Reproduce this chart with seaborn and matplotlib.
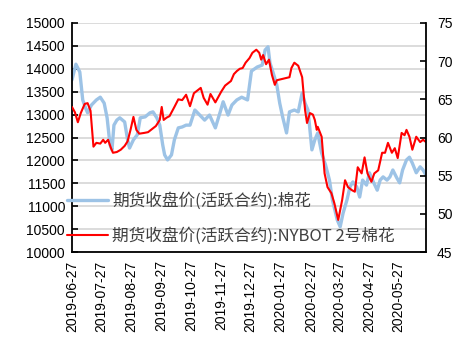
import matplotlib
matplotlib.use("Agg")
import matplotlib.pyplot as plt
import matplotlib.dates as mdates
from matplotlib.lines import Line2D
import seaborn as sns
import pandas as pd
import numpy as np

# ---- data (days since 2019-06-27) ----
start_date = "2019-06-27"
blue_days = [0, 4, 8, 11, 14, 16, 20, 25, 29, 33, 36, 39, 41, 43, 46, 49, 54, 57, 59, 63,
             67, 70, 75, 80, 83, 87, 90, 93, 95, 98, 102, 105, 109, 113, 117, 121, 126, 131,
             136, 141, 147, 152, 155, 160, 164, 169, 174, 180, 184, 190, 195, 198, 201, 203,
             206, 210, 213, 216, 220, 223, 228, 232, 236, 239, 242, 246, 249, 252, 256, 260,
             264, 267, 272, 275, 278, 282, 285, 288, 292, 295, 298, 302, 305, 309, 313, 316,
             319, 323, 326, 329, 333, 336, 339, 343, 346, 349, 353, 357, 360, 363]
blue_vals = [13760, 14100, 13930, 13320, 13140, 13040, 13210, 13320, 13380, 13250, 12930,
             12340, 12230, 12770, 12880, 12930, 12840, 12450, 12270, 12450, 12560, 12930,
             12950, 13040, 13060, 12930, 12770, 12340, 12120, 12010, 12120, 12450, 12710,
             12730, 12770, 12770, 13100, 12990, 12880, 12990, 12710, 13060, 13280, 12990,
             13210, 13320, 13380, 13320, 13950, 14040, 14080, 14410, 14480, 14130, 13930,
             13650, 13250, 12950, 12600, 13060, 13100, 13060, 13470, 13250, 13100, 12230,
             12450, 12600, 12160, 11900, 11570, 11140, 10700, 10550, 10850, 11140, 11420,
             11530, 11420, 11200, 11570, 11460, 11730, 11530, 11350, 11570, 11640, 11570,
             11640, 11790, 11620, 11510, 11790, 12010, 12070, 11940, 11730, 11860, 11790,
             11680]

red_days = [0, 3, 6, 9, 13, 16, 19, 22, 25, 29, 32, 34, 37, 40, 42, 46, 50, 54, 57, 60, 63,
            66, 69, 74, 78, 82, 86, 90, 92, 94, 97, 100, 105, 109, 113, 117, 121, 125, 129,
            132, 135, 139, 142, 147, 150, 153, 157, 160, 163, 166, 169, 172, 175, 178, 182,
            185, 189, 192, 194, 196, 199, 202, 205, 208, 210, 223, 225, 228, 232, 236, 239,
            241, 244, 247, 249, 251, 252, 256, 259, 262, 266, 269, 273, 277, 280, 283, 287,
            290, 293, 297, 300, 303, 307, 310, 314, 318, 321, 324, 328, 331, 334, 338, 341,
            343, 346, 349, 353, 357, 360, 363]
red_vals = [64.0, 63.3, 62.0, 63.2, 64.4, 64.5, 63.5, 58.8, 59.3, 59.2, 59.7, 59.3, 59.7,
            58.6, 58.0, 58.1, 58.4, 58.9, 59.5, 61.0, 62.7, 61.0, 60.5, 60.6, 60.7, 61.1,
            61.5, 62.3, 64.0, 62.3, 62.6, 62.8, 64.0, 65.0, 64.9, 65.6, 64.1, 65.8, 66.2,
            66.5, 65.2, 64.3, 65.7, 64.6, 65.3, 66.0, 66.8, 67.1, 67.4, 68.3, 68.7, 69.0,
            69.1, 69.8, 70.4, 71.1, 71.5, 71.1, 70.2, 70.8, 69.6, 70.2, 68.2, 66.9, 67.5,
            67.9, 69.1, 69.8, 69.4, 67.9, 63.6, 61.9, 63.2, 63.0, 62.3, 61.0, 61.4, 60.1,
            55.3, 53.5, 52.7, 51.4, 49.2, 51.8, 54.4, 53.5, 53.1, 52.9, 56.1, 55.3, 57.4,
            55.3, 54.2, 55.3, 55.7, 58.0, 58.0, 59.3, 58.0, 58.6, 57.3, 60.6, 60.3, 61.0,
            60.1, 58.4, 60.1, 59.4, 59.7, 59.4]

blue_label = "期货收盘价(活跃合约):棉花"
red_label = "期货收盘价(活跃合约):NYBOT 2号棉花"
tick_dates = ["2019-06-27", "2019-07-27", "2019-08-27", "2019-09-27", "2019-10-27",
              "2019-11-27", "2019-12-27", "2020-01-27", "2020-02-27", "2020-03-27",
              "2020-04-27", "2020-05-27"]

t0 = pd.Timestamp(start_date)
df_blue = pd.DataFrame({"date": t0 + pd.to_timedelta(blue_days, unit="D"), "val": blue_vals})
df_red = pd.DataFrame({"date": t0 + pd.to_timedelta(red_days, unit="D"), "val": red_vals})

sns.set_style("white")
plt.rcParams["font.family"] = ["Liberation Sans", "Noto Sans CJK SC", "DejaVu Sans"]

BLUE = "#9DC3E6"
RED = "#FF0000"

fig = plt.figure(figsize=(4.73, 3.54), dpi=100)
ax = fig.add_axes([72 / 473, 1 - 252 / 354, (426 - 72) / 473, (252 - 23) / 354])
ax2 = ax.twinx()

sns.lineplot(data=df_blue, x="date", y="val", ax=ax, color=BLUE, linewidth=2.4)
sns.lineplot(data=df_red, x="date", y="val", ax=ax2, color=RED, linewidth=1.5)

ax.set_ylim(10000, 15000)
ax.set_yticks(np.arange(10000, 15001, 500))
ax2.set_ylim(45, 75)
ax2.set_yticks(np.arange(45, 76, 5))
ax.set_xlim(t0, t0 + pd.Timedelta(days=363))
ax.set_xticks(pd.to_datetime(tick_dates))
ax.xaxis.set_major_formatter(mdates.DateFormatter("%Y-%m-%d"))
for lbl in ax.get_xticklabels():
    lbl.set_rotation(90)

ax.grid(axis="y", color="#D9D9D9", linewidth=1.3)
ax.set_axisbelow(True)
ax.set_xlabel("")
ax.set_ylabel("")
ax2.set_xlabel("")
ax2.set_ylabel("")

for a in (ax, ax2):
    a.spines["top"].set_visible(False)
    for s in ("left", "right", "bottom"):
        a.spines[s].set_color("black")
        a.spines[s].set_linewidth(1.3)
ax.spines["right"].set_visible(False)
ax2.spines["left"].set_visible(False)
ax2.spines["bottom"].set_visible(False)

ax.tick_params(axis="both", direction="in", length=4, width=1.2, labelsize=10,
               colors="black", pad=5)
ax2.tick_params(axis="y", direction="in", length=4, width=1.2, labelsize=10,
                colors="black", pad=8)
ax.tick_params(axis="x", pad=6)

handles = [Line2D([0], [0], color=BLUE, lw=2.4), Line2D([0], [0], color=RED, lw=1.5)]
leg = ax2.legend(handles, [blue_label, red_label], loc="center left",
                 bbox_to_anchor=(-0.033, 0.146), frameon=False,
                 prop={"family": ["Noto Sans CJK SC", "DejaVu Sans"], "size": 12},
                 handlelength=2.45, handletextpad=0.25, labelspacing=1.0,
                 borderaxespad=0)
for t in leg.get_texts():
    t.set_color("#404040")

fig.savefig("out.png", dpi=100)
